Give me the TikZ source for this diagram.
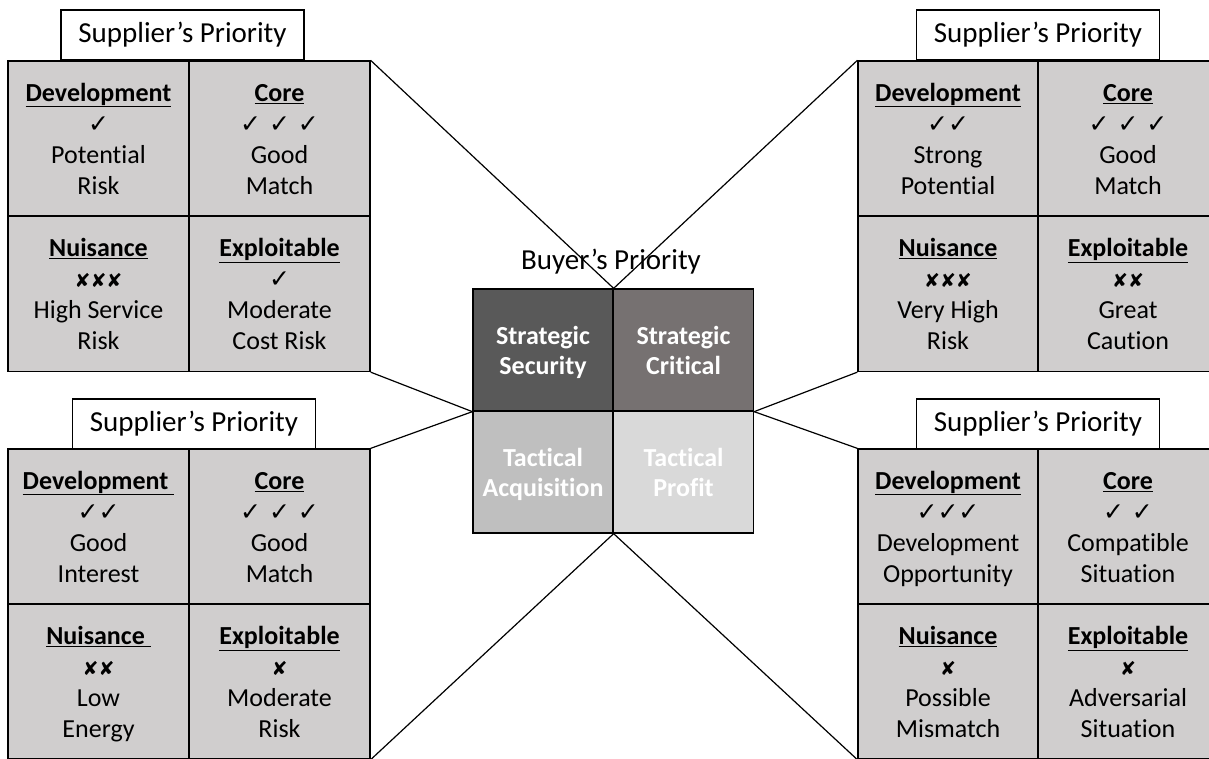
\documentclass[tikz,border=0pt]{standalone}
\usepackage{fontspec}
\setmainfont{Carlito}[Ligatures=NoCommon]
\newfontfamily\symfont{DejaVu Sans}
\definecolor{cellgray}{HTML}{D0CECE}
\definecolor{ssgray}{HTML}{595959}
\definecolor{scgray}{HTML}{767171}
\definecolor{tagray}{HTML}{BFBFBF}
\definecolor{tpgray}{HTML}{D9D9D9}
\newcommand\CK[1]{{\symfont\fontsize{25}{31}\selectfont #1}}
\newcommand\XX[1]{{\symfont\fontsize{19}{31}\selectfont #1}}
\newcommand\cellq[4]{\rule{0pt}{27.7pt}\underline{\textbf{#1}}\\#2\\#3\\#4\strut}
\newcommand\twol[2]{\rule{0pt}{27pt}#1\\#2\strut}
\tikzset{
  cell/.style={draw, line width=1.3pt, fill=cellgray, minimum width=181pt, minimum height=155pt,
    inner sep=0pt, align=center, font=\fontsize{26}{31}\selectfont},
  title/.style={draw, line width=1.3pt, fill=white, minimum width=243pt, minimum height=50pt,
    inner sep=0pt, font=\fontsize{29}{34}\selectfont},
  bcell/.style={draw, line width=1.3pt, minimum width=140pt, minimum height=122pt, inner sep=0pt,
    align=center, text=white, font=\bfseries\fontsize{26}{30}\selectfont},
  link/.style={line width=1.2pt}
}
\begin{document}
\begin{tikzpicture}[x=1pt,y=-1pt]
\useasboundingbox (0,0) rectangle (1209,758);
% top-left grid
\node[title] (tlt) at (182.5,35) {Supplier’s Priority};
\node[cell] (tl11) at (98.5,138.5) {\cellq{Development}{\CK{✓}}{Potential}{Risk}};
\node[cell] (tl12) at (279.5,138.5) {\cellq{Core}{\CK{✓ ✓ ✓}}{Good}{Match}};
\node[cell] (tl21) at (98.5,294) {\cellq{Nuisance}{\XX{✘✘✘}}{High Service}{Risk}};
\node[cell] (tl22) at (279.5,294) {\cellq{Exploitable}{\CK{✓}}{Moderate}{Cost Risk}};
% top-right grid
\node[title] (trt) at (1038,35) {Supplier’s Priority};
\node[cell, minimum width=180pt] (tr11) at (948,138.5) {\cellq{Development}{\CK{✓✓}}{Strong}{Potential}};
\node[cell, minimum width=180pt] (tr12) at (1128,138.5) {\cellq{Core}{\CK{✓ ✓ ✓}}{Good}{Match}};
\node[cell, minimum width=180pt] (tr21) at (948,294) {\cellq{Nuisance}{\XX{✘✘✘}}{Very High}{Risk}};
\node[cell, minimum width=180pt] (tr22) at (1128,294) {\cellq{Exploitable}{\XX{✘✘}}{Great}{Caution}};
% bottom-left grid
\node[title] (blt) at (194,424) {Supplier’s Priority};
\node[cell] (bl11) at (98.5,526.5) {\cellq{Development\ }{\CK{✓✓}}{Good}{Interest}};
\node[cell] (bl12) at (279.5,526.5) {\cellq{Core}{\CK{✓ ✓ ✓}}{Good}{Match}};
\node[cell] (bl21) at (98.5,681.5) {\cellq{Nuisance\ }{\XX{✘✘}}{Low}{Energy}};
\node[cell] (bl22) at (279.5,681.5) {\cellq{Exploitable}{\XX{✘}}{Moderate}{Risk}};
% bottom-right grid
\node[title] (brt) at (1038,424) {Supplier’s Priority};
\node[cell, minimum width=180pt] (br11) at (948,526.5) {\cellq{Development}{\CK{✓✓✓}}{Development}{Opportunity}};
\node[cell, minimum width=180pt] (br12) at (1128,526.5) {\cellq{Core}{\CK{✓ ✓}}{Compatible}{Situation}};
\node[cell, minimum width=180pt] (br21) at (948,681.5) {\cellq{Nuisance}{\XX{✘}}{Possible}{Mismatch}};
\node[cell, minimum width=180pt] (br22) at (1128,681.5) {\cellq{Exploitable}{\XX{✘}}{Adversarial}{Situation}};
% center
\node[font=\fontsize{29}{34}\selectfont] (bp) at (611,262) {Buyer’s Priority};
\node[bcell, fill=ssgray] (ss) at (543,350) {\twol{Strategic}{Security}};
\node[bcell, fill=scgray] (sc) at (683.5,350) {\twol{Strategic}{Critical}};
\node[bcell, fill=tagray] (ta) at (543,472) {\twol{Tactical}{Acquisition}};
\node[bcell, fill=tpgray] (tp) at (683.5,472) {\twol{Tactical}{Profit}};
% connectors
\draw[link] (ss.north east) -- (tl12.north east);
\draw[link] (ss.north east) -- (tr11.north west);
\draw[link] (ss.south west) -- (tl22.south east);
\draw[link] (ss.south west) -- (bl12.north east);
\draw[link] (sc.south east) -- (tr21.south west);
\draw[link] (sc.south east) -- (br11.north west);
\draw[link] (ta.south east) -- (bl22.south east);
\draw[link] (ta.south east) -- (br21.south west);
\end{tikzpicture}
\end{document}
